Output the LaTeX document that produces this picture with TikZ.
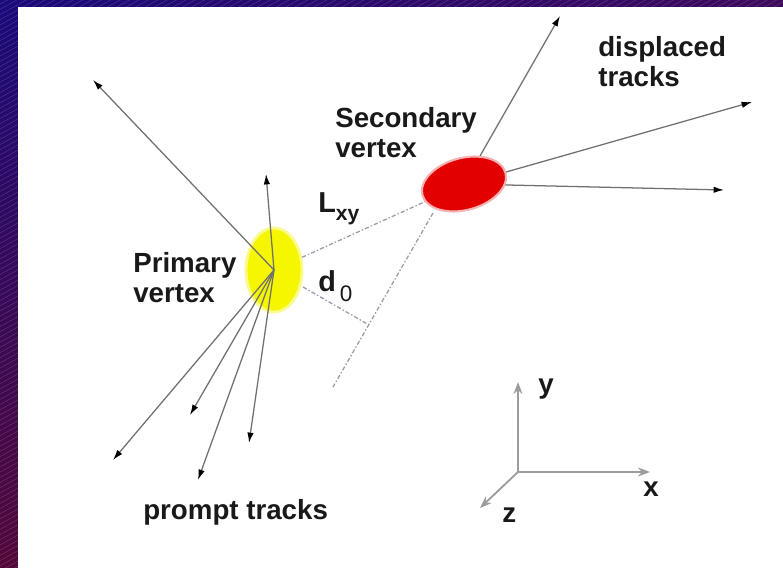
\documentclass[tikz,border=0pt]{standalone}
\usepackage{fontspec}
\setmainfont{Liberation Sans}
\usepackage{tikz}
\usetikzlibrary{arrows.meta, positioning, calc, shapes.geometric, shadings}
\definecolor{vtxframeA}{HTML}{1A0A7A}
\definecolor{vtxframeB}{HTML}{3E0A5C}
\definecolor{vtxframeC}{HTML}{52083A}
\definecolor{vtxframeD}{HTML}{5A0832}
\definecolor{vtxyellow}{HTML}{F6F600}
\definecolor{vtxred}{HTML}{E20000}
\definecolor{vtxtrack}{HTML}{707070}
\definecolor{vtxdash}{HTML}{9A9AAA}
\definecolor{vtxaxis}{HTML}{9C9C9C}

\begin{document}
\begin{tikzpicture}[
  track/.style={draw=vtxtrack, line width=0.9pt, -{Latex[black, length=2.6mm, width=1.6mm]}},
  extrap/.style={draw=vtxdash, line width=0.9pt, dash pattern=on 3pt off 1.5pt on 1pt off 1.5pt},
  axisline/.style={draw=vtxaxis, line width=1.3pt, -{Stealth[length=3mm, width=2.2mm]}},
  vtxtext/.style={inner sep=0pt, anchor=base west, align=left, text=black!90, font=\fontsize{19.7}{22}\selectfont\bfseries}
]
\useasboundingbox (0,0) rectangle (19.575,14.175);
\begin{scope}
\clip (0,0) rectangle (19.575,14.175);
\shade[upper left=vtxframeA, upper right=vtxframeB, lower left=vtxframeC, lower right=vtxframeD] (0,0) rectangle (19.575,14.175);
\foreach \i in {0,...,215}
  \draw[white, opacity=0.2, line width=0.3pt] (0,{-11.8+\i*0.13}) -- ++(29:24);
\fill[white] (0.45,-0.2) rectangle (19.8,14.0);
\end{scope}

\node[ellipse, fill=vtxyellow, draw=vtxyellow!45, line width=2pt, minimum width=1.4cm, minimum height=2.1cm, inner sep=0pt] (pv) at (6.85,7.425) {};
\node[ellipse, fill=vtxred, draw=vtxred!30, line width=1.5pt, minimum width=2.15cm, minimum height=1.3cm, inner sep=0pt, rotate=15] (sv) at (11.6,9.575) {};

\coordinate (p1) at (2.325,12.175);
\coordinate (p2) at (6.65,9.825);
\coordinate (p3) at (2.825,2.675);
\coordinate (p4) at (4.75,3.8);
\coordinate (p5) at (4.95,2.175);
\coordinate (p6) at (6.225,3.1);
\foreach \t in {p1,p2,p3,p4,p5,p6}
  \draw[track] (pv.center) -- (\t);

\coordinate (d1) at (14.0,13.775);
\coordinate (d2) at (18.8,11.625);
\coordinate (d3) at (18.1,9.425);
\foreach \t in {d1,d2,d3}
  \draw[track] (sv) -- (\t);

\coordinate (xa) at (10.825,8.85);
\coordinate (xb) at (8.325,4.5);
\coordinate (ds) at (7.575,7.0);
\draw[extrap] (pv) -- (sv);
\draw[extrap] (xa) -- (xb);
\draw[extrap] (ds) -- ($(xa)!(ds)!(xb)$);

\node[vtxtext] (pvtext) at (3.325,6.6) {Primary\\vertex};
\node[vtxtext] (svtext) at (8.375,10.225) {Secondary\\vertex};
\node[vtxtext] (dtext) at (14.95,12.0) {displaced\\tracks};
\node[vtxtext] (ptext) at (3.575,1.175) {prompt tracks};
\node[vtxtext, font=\fontsize{20.5}{24}\selectfont\bfseries] (lxy) at (7.95,8.85) {L\raisebox{-0.18cm}{\fontsize{15}{18}\selectfont xy}};
\node[vtxtext, font=\fontsize{20.5}{24}\selectfont\bfseries] (dzero) at (7.95,6.875) {d\hspace{0.1cm}\raisebox{-0.25cm}{\fontsize{16}{18}\selectfont\mdseries 0}};

\coordinate (o) at (12.95,2.375);
\coordinate (ay) at (12.95,4.625);
\coordinate (ax) at (16.25,2.375);
\coordinate (az) at (12.0,1.475);
\draw[axisline] (o) -- (ay);
\draw[axisline] (o) -- (ax);
\draw[axisline] (o) -- (az);
\node[vtxtext] (ytext) at (13.45,4.325) {y};
\node[vtxtext] (xtext) at (16.075,1.75) {x};
\node[vtxtext] (ztext) at (12.55,1.125) {z};
\end{tikzpicture}
\end{document}
